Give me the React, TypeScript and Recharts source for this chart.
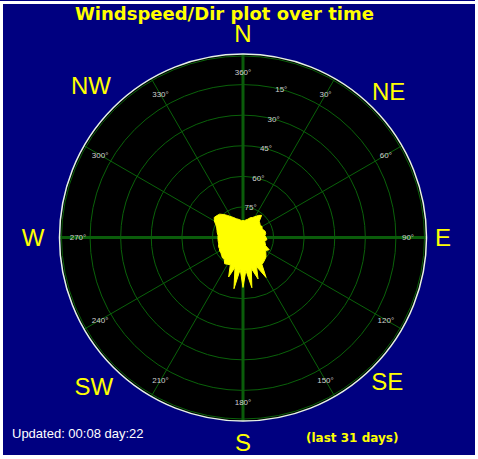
import React from "react";
import { RadarChart, Radar, PolarGrid, PolarAngleAxis, PolarRadiusAxis } from "recharts";

// wind direction (deg) and speed (plot units, ring step = 15)
const directions = [
  0, 5, 10, 15, 20, 25, 30, 35, 40, 45, 50, 55, 60, 65, 70, 75, 80, 85,
  90, 95, 100, 105, 110, 115, 120, 125, 130, 135, 140, 145, 150, 155, 160, 165, 170, 175,
  180, 185, 190, 195, 200, 205, 210, 215, 220, 225, 230, 235, 240, 245, 250, 255, 260, 265,
  270, 275, 280, 285, 290, 295, 300, 305, 310, 315, 320, 325, 330, 335, 340, 345, 350, 355,
];
const speeds = [
  8.3, 8.3, 8.8, 9.3, 10.3, 10.8, 11.8, 13.2, 14.2, 11.3, 10.8, 10.3, 10.8, 10.3, 10.8, 11.3, 11.3, 10.8,
  11.3, 11.8, 10.8, 11.3, 11.8, 14.2, 12.8, 13.7, 14.7, 15.2, 15.7, 16.2, 22.6, 15.7, 21.6, 15.7, 25.0, 16.2,
  24.5, 15.7, 25.5, 15.2, 20.6, 14.7, 15.2, 15.7, 14.2, 14.2, 13.7, 13.2, 13.2, 12.8, 12.8, 12.3, 12.3, 12.3,
  12.3, 12.3, 12.8, 13.2, 13.7, 14.7, 16.2, 17.2, 16.7, 16.2, 14.7, 13.2, 11.8, 10.8, 9.8, 9.3, 8.8, 8.3,
];

const angleTicks = [0, 30, 60, 90, 120, 150, 180, 210, 240, 270, 300, 330];
const ringTicks = [15, 30, 45, 60, 75];
const compassAngles = [0, 45, 90, 135, 180, 225, 270, 315];
const compassLabels = ["N", "NE", "E", "SE", "S", "SW", "W", "NW"];

const data = directions.map((d, i) => ({ dir: d, speed: speeds[i] }));

const W = 478;
const H = 459;
const CX = 243;
const CY = 237.5;
const R = 183.5;

const AngleTick = (props: any) => {
  const { x, y, payload } = props;
  const v = payload.value;
  return (
    <text x={x} y={y} textAnchor="middle" dominantBaseline="central" fontSize={8}
      fontFamily="'Liberation Sans', Arial, sans-serif" fill="#d0d0d0">
      {v === 0 || v === 360 ? "360°" : `${v}°`}
    </text>
  );
};

const RingTick = (props: any) => {
  const { x, y, payload } = props;
  return (
    <text x={x} y={y} textAnchor="middle" dominantBaseline="central" fontSize={8}
      fontFamily="'Liberation Sans', Arial, sans-serif" fill="#d0d0d0">
      {`${90 - payload.value}°`}
    </text>
  );
};

const compassRadius: Record<string, number> = { N: 204, NE: 206, E: 200, SE: 204, S: 205, SW: 211, W: 210, NW: 215 };

const CompassTick = (props: any) => {
  const { x, y, payload } = props;
  const v = payload.value;
  const idx = compassAngles.indexOf(v);
  const label = compassLabels[idx] ?? "";
  const extra = (compassRadius[label] ?? 207) - 207;
  const rad = (v * Math.PI) / 180;
  return (
    <text x={x + Math.sin(rad) * extra} y={y - Math.cos(rad) * extra} textAnchor="middle"
      dominantBaseline="central" fontSize={24} fontFamily="'Liberation Sans', Arial, sans-serif" fill="#ffff00">
      {label}
    </text>
  );
};

export default function App() {
  const ringRadii = ringTicks.map((t) => (t / 90) * R);
  return (
    <div style={{ position: "absolute", left: 0, top: 0, width: W, height: H, background: "#ffffff" }}>
      <div style={{ position: "absolute", left: 0, top: 0, width: 475, height: 1, background: "#000080" }} />
      <div style={{ position: "absolute", left: 3, top: 4, width: 472, height: 451, background: "#000080" }} />
      <div style={{ position: "absolute", left: CX - R, top: CY - R, width: 2 * R, height: 2 * R, borderRadius: "50%", background: "#000000" }} />
      <div style={{ position: "absolute", left: 0, top: 0 }}>
        <RadarChart width={W} height={H} cx={CX} cy={CY} outerRadius={R} data={data}
          margin={{ top: 0, right: 0, bottom: 0, left: 0 }}>
          <PolarGrid gridType="circle" stroke="#0a620a" strokeWidth={1}
            polarAngles={angleTicks.map((a) => a)} polarRadius={[...ringRadii, R - 2]} />
          <PolarGrid gridType="circle" stroke="#0a5c0a" strokeWidth={3}
            polarAngles={[0, 90, 180, 270]} polarRadius={[]} />
          <PolarAngleAxis dataKey="dir" type="number" domain={[0, 360]} ticks={angleTicks}
            orientation="inner" tickSize={18.5} tickLine={false}
            axisLine={{ stroke: "#e6f2e6", strokeWidth: 1.5 }} axisLineType="circle" tick={AngleTick} />
          <PolarAngleAxis angleAxisId="compass" dataKey="dir" type="number" domain={[0, 360]} ticks={compassAngles}
            orientation="outer" tickSize={23.5} tickLine={false} axisLine={false} tick={CompassTick} />
          <PolarRadiusAxis angle={75.5} type="number" domain={[0, 90]} ticks={ringTicks}
            axisLine={false} tickLine={false} tick={RingTick} />
          <Radar dataKey="speed" stroke="#ffff00" strokeWidth={1} fill="#ffff00" fillOpacity={1}
            dot={false} isAnimationActive={false} />
        </RadarChart>
      </div>
      <svg width={W} height={H} style={{ position: "absolute", left: 0, top: 0, pointerEvents: "none" }}>
        <text x={75} y={20} fontSize={18} fontWeight="bold" fontFamily="'DejaVu Sans', Verdana, sans-serif" fill="#ffff00">
          Windspeed/Dir plot over time
        </text>
        <text x={12} y={438} fontSize={13} fontFamily="'Liberation Sans', Arial, sans-serif" fill="#ffffff">
          Updated: 00:08 day:22
        </text>
        <text x={306} y={442} fontSize={12} fontWeight="bold" fontFamily="'DejaVu Sans', Verdana, sans-serif" fill="#ffff00">
          (last 31 days)
        </text>
      </svg>
    </div>
  );
}
